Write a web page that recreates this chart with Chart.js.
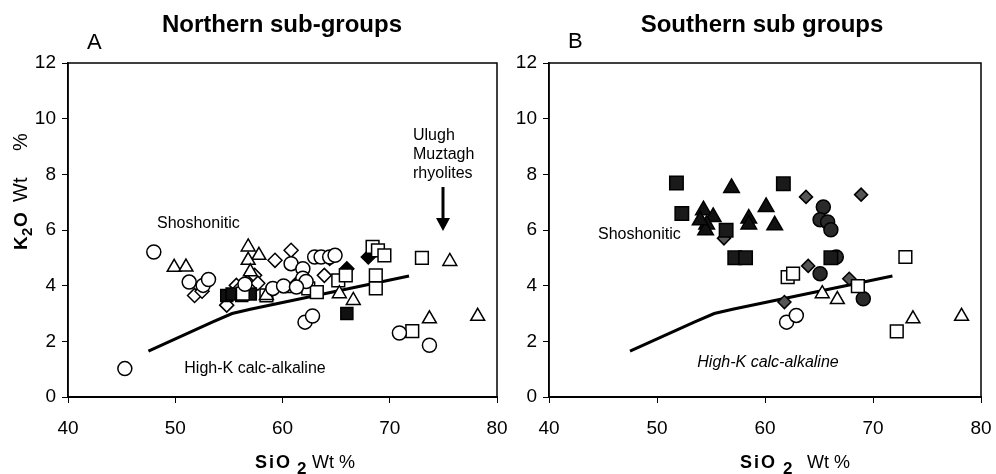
<!DOCTYPE html>
<html>
<head>
<meta charset="utf-8">
<script src="https://cdn.jsdelivr.net/npm/chart.js@4.4.0/dist/chart.umd.min.js"></script>
<style>
body { margin: 0; background: #fff; }
#wrap { position: relative; width: 996px; height: 474px; overflow: hidden; }
canvas { position: absolute; top: 0; }
</style>
</head>
<body>
<div id="wrap">
<canvas id="chartA" width="530" height="474" style="left:0"></canvas>
<canvas id="chartB" width="530" height="474" style="left:500px"></canvas>
</div>
<script>
/*global Chart*/

// axis ticks
const xTicks = [40, 50, 60, 70, 80];
const yTicks = [0, 2, 4, 6, 8, 10, 12];

// shoshonitic / high-K calc-alkaline boundary (SiO2, K2O)
const boundary = [[47.5, 1.65], [53.5, 2.7], [55.3, 3.0], [57, 3.15], [71.8, 4.35]];

// A - Northern sub-groups
const circlesA = [[45.3, 1.02], [48.0, 5.21], [51.3, 4.13], [52.6, 4.01], [53.1, 4.22], [56.5, 4.05], [59.1, 3.9],
    [60.1, 3.99], [60.8, 4.79], [61.9, 4.61], [61.9, 4.27], [62.2, 4.15], [63.0, 5.03], [63.6, 5.03], [64.4, 5.03],
    [64.9, 5.09], [61.3, 3.95], [62.1, 2.69], [62.8, 2.91], [70.9, 2.3], [73.7, 1.86]];
const trianglesA = [[49.9, 4.66], [51.0, 4.67], [56.8, 5.39], [57.8, 5.09], [56.8, 4.91], [57.0, 4.5], [58.5, 3.65],
    [61.0, 3.9], [65.3, 3.71], [66.6, 3.47], [73.7, 2.81], [75.6, 4.87], [78.2, 2.9]];
const squaresA = [[56.3, 3.71], [58.5, 3.65], [62.4, 3.9], [63.2, 3.77], [65.2, 4.19], [65.9, 4.37], [68.7, 3.9],
    [73.0, 5.0], [72.1, 2.37]];
const quarteredA = [[68.4, 5.39], [68.9, 5.27], [69.5, 5.09], [68.7, 4.37]];
const darkSquaresA = [[54.8, 3.65], [55.3, 3.7], [56.2, 3.65], [57.0, 3.7], [66.0, 3.0]];
const diamondsA = [[51.8, 3.65], [52.5, 3.8], [54.8, 3.3], [55.7, 4.01], [56.6, 4.09], [57.4, 4.37], [57.7, 4.09],
    [59.3, 4.91], [60.8, 5.27], [63.9, 4.37], [56.0, 3.9]];
const blackDiamondsA = [[61.3, 4.07], [64.4, 4.98], [66.0, 4.61], [68.0, 5.03]];

// B - Southern sub groups
const darkSquaresB = [[51.8, 7.69], [52.3, 6.59], [61.7, 7.66], [57.2, 5.0], [58.2, 5.0], [56.4, 5.99], [66.1, 5.0]];
const darkTrianglesB = [[56.9, 7.51], [54.3, 6.71], [55.2, 6.47], [54.6, 6.2], [54.5, 5.99], [58.5, 6.41], [58.5, 6.2],
    [60.1, 6.83], [60.9, 6.17], [54.0, 6.35]];
const grayDiamondsB = [[63.8, 7.19], [68.9, 7.27], [64.0, 4.71], [67.8, 4.25], [61.8, 3.41], [56.2, 5.7]];
const darkCirclesB = [[65.4, 6.83], [65.1, 6.37], [65.8, 6.29], [66.1, 6.01], [65.1, 4.43], [66.6, 5.03], [69.1, 3.53]];
const squaresB = [[62.1, 4.31], [62.6, 4.43], [73.0, 5.03], [68.6, 3.98], [72.2, 2.36]];
const trianglesB = [[65.3, 3.71], [66.7, 3.5], [73.7, 2.81], [78.2, 2.9]];
const circlesB = [[62.0, 2.69], [62.9, 2.93]];

const FONT = '"Liberation Sans", Arial, sans-serif';
const pts = arr => arr.map(p => ({ x: p[0], y: p[1] }));

function marker(data, style, radius, fill, stroke) {
    return {
        data: pts(data),
        pointStyle: style,
        pointRadius: radius,
        pointBackgroundColor: fill,
        pointBorderColor: stroke || '#000',
        pointBorderWidth: 1.5,
        showLine: false
    };
}

function lineSet() {
    return {
        data: pts(boundary),
        showLine: true,
        borderColor: '#000',
        borderWidth: 3,
        pointRadius: 0,
        order: 10
    };
}

function scales(yWidth) {
    return {
        x: {
            type: 'linear', min: 40, max: 80,
            afterBuildTicks: s => { s.ticks = xTicks.map(v => ({ value: v })); },
            afterFit: s => { s.height = 77; },
            ticks: { color: '#000', font: { family: FONT, size: 19 }, padding: 14 },
            grid: { drawOnChartArea: false, drawTicks: true, tickLength: 6, color: '#000' },
            border: { display: true, color: '#000', width: 2 }
        },
        y: {
            type: 'linear', min: 0, max: 12,
            afterBuildTicks: s => { s.ticks = yTicks.map(v => ({ value: v })); },
            afterFit: s => { s.width = yWidth; },
            ticks: { color: '#000', font: { family: FONT, size: 19 }, padding: 6 },
            grid: { drawOnChartArea: false, drawTicks: true, tickLength: 6, color: '#000' },
            border: { display: true, color: '#000', width: 1.5 }
        }
    };
}

function frame(chart) {
    const a = chart.chartArea, ctx = chart.ctx;
    ctx.save();
    ctx.strokeStyle = '#000';
    ctx.lineWidth = 1.5;
    ctx.strokeRect(a.left, a.top, a.right - a.left, a.bottom - a.top);
    ctx.restore();
}

function txt(ctx, s, x, y, font, align) {
    ctx.font = font;
    ctx.textAlign = align || 'left';
    ctx.textBaseline = 'alphabetic';
    ctx.fillStyle = '#000';
    ctx.fillText(s, x, y);
}

function sio2(ctx, x0, xSub, xWt) {
    ctx.save();
    ctx.letterSpacing = '2px';
    txt(ctx, 'SiO', x0, 468, 'bold 18px ' + FONT);
    ctx.letterSpacing = '0px';
    txt(ctx, '2', xSub, 474, 'bold 17px ' + FONT);
    txt(ctx, 'Wt %', xWt, 468, '18px ' + FONT);
    ctx.restore();
}

const decorA = {
    id: 'decorA',
    afterDraw(chart) {
        const ctx = chart.ctx;
        frame(chart);
        ctx.save();
        txt(ctx, 'Northern sub-groups', 282, 32, 'bold 24px ' + FONT, 'center');
        txt(ctx, 'A', 87, 49, '22px ' + FONT);
        txt(ctx, 'Shoshonitic', 157, 228, '16px ' + FONT);
        txt(ctx, 'High-K calc-alkaline', 255, 373, '16px ' + FONT, 'center');
        txt(ctx, 'Ulugh', 413, 140, '16px ' + FONT);
        txt(ctx, 'Muztagh', 413, 159, '16px ' + FONT);
        txt(ctx, 'rhyolites', 413, 178, '16px ' + FONT);
        // arrow to the rhyolites
        ctx.strokeStyle = '#000';
        ctx.lineWidth = 3;
        ctx.beginPath();
        ctx.moveTo(443, 187);
        ctx.lineTo(443, 220);
        ctx.stroke();
        ctx.beginPath();
        ctx.moveTo(436, 218);
        ctx.lineTo(450, 218);
        ctx.lineTo(443, 231);
        ctx.closePath();
        ctx.fill();
        sio2(ctx, 255, 297, 312);
        // K2O Wt % rotated
        ctx.translate(27, 250);
        ctx.rotate(-Math.PI / 2);
        txt(ctx, 'K', 0, 0, 'bold 19px ' + FONT);
        txt(ctx, '2', 14, 5, 'bold 15px ' + FONT);
        txt(ctx, 'O', 23, 0, 'bold 19px ' + FONT);
        txt(ctx, 'Wt', 48, 0, '20px ' + FONT);
        txt(ctx, '%', 99, 0, '20px ' + FONT);
        ctx.restore();
    }
};

const decorB = {
    id: 'decorB',
    afterDraw(chart) {
        const ctx = chart.ctx;
        frame(chart);
        ctx.save();
        txt(ctx, 'Southern sub groups', 262, 32, 'bold 24px ' + FONT, 'center');
        txt(ctx, 'B', 68, 48, '22px ' + FONT);
        txt(ctx, 'Shoshonitic', 98, 239, '16px ' + FONT);
        txt(ctx, 'High-K calc-alkaline', 268, 367, 'italic 16px ' + FONT, 'center');
        sio2(ctx, 240, 283, 307);
        ctx.restore();
    }
};

function makeChart(id, datasets, pad, yWidth, plugin) {
    return new Chart(document.getElementById(id), {
        type: 'scatter',
        data: { datasets },
        options: {
            responsive: false,
            animation: false,
            devicePixelRatio: 1,
            layout: { padding: pad },
            scales: scales(yWidth),
            plugins: { legend: { display: false }, tooltip: { enabled: false } }
        },
        plugins: [plugin]
    });
}

makeChart('chartA', [
    lineSet(),
    marker(circlesA, 'circle', 7, '#fff'),
    marker(trianglesA, 'triangle', 8, '#fff'),
    marker(squaresA, 'rect', 9, '#fff'),
    marker(quarteredA, 'rect', 9, '#fff'),
    marker(quarteredA, 'cross', 6, '#fff'),
    marker(darkSquaresA, 'rect', 8.5, '#111'),
    marker(darkSquaresA, 'crossRot', 3.5, '#fff', '#ddd'),
    marker(diamondsA, 'rectRot', 7, '#fff'),
    marker(blackDiamondsA, 'rectRot', 7, '#000')
], { left: 0, right: 33, top: 63, bottom: 0 }, 68, decorA);

makeChart('chartB', [
    lineSet(),
    marker(circlesB, 'circle', 7, '#fff'),
    marker(trianglesB, 'triangle', 8, '#fff'),
    marker(squaresB, 'rect', 9, '#fff'),
    marker(darkSquaresB, 'rect', 9.5, '#1a1a1a'),
    marker(darkTrianglesB, 'triangle', 9, '#111'),
    marker(grayDiamondsB, 'rectRot', 6.5, '#555'),
    marker(darkCirclesB, 'circle', 7, '#2a2a2a')
], { left: 0, right: 49, top: 63, bottom: 0 }, 49, decorB);
</script>
</body>
</html>
